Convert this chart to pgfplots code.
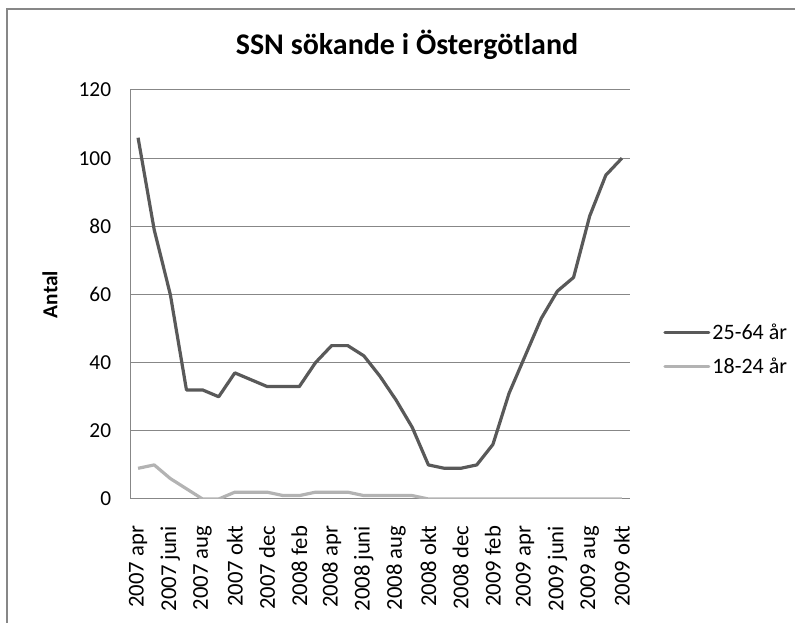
\documentclass[border=0pt]{standalone}
\usepackage{fontspec}
\setmainfont{Carlito}
\usepackage{pgfplots}
\pgfplotsset{compat=1.18}
\definecolor{darkser}{HTML}{595959}
\definecolor{lightser}{HTML}{B3B3B3}
\definecolor{gridc}{HTML}{878787}
\begin{document}
\begin{tikzpicture}
\path[use as bounding box] (0,0) rectangle (596.25pt,467.25pt);
\draw[gridc, line width=0.9pt] (5.25pt,-2pt) -- (5.25pt,460.5pt) -- (600pt,460.5pt);
\begin{axis}[
  at={(97.5pt,93pt)}, anchor=south west,
  scale only axis, width=375pt, height=306.75pt,
  xmin=-0.5, xmax=30.5, ymin=0, ymax=120,
  xtick={0,2,...,30},
  xticklabels={2007 apr,2007 juni,2007 aug,2007 okt,2007 dec,2008 feb,2008 apr,2008 juni,2008 aug,2008 okt,2008 dec,2009 feb,2009 apr,2009 juni,2009 aug,2009 okt},
  ytick={0,20,...,120},
  major tick length=0pt,
  axis x line*=bottom, axis y line*=left,
  axis line style={-, draw=gridc, line width=0.75pt},
  ymajorgrids, grid style={gridc, line width=0.75pt},
  /pgf/number format/assume math mode=true,
  tick label style={font=\fontsize{16}{19}\selectfont, text=black},
  yticklabel style={anchor=east, inner sep=0pt, xshift=-14pt},
  xticklabel style={font=\fontsize{17}{20}\selectfont, yshift=-20pt, rotate=90, anchor=east, inner sep=0pt},
  title={SSN sökande i Östergötland},
  title style={font=\fontsize{22.5}{27}\bfseries, at={(axis description cs:0.554,1.067)}, anchor=base},
  ylabel={Antal},
  ylabel style={font=\fontsize{16}{19}\bfseries, at={(axis description cs:-0.16,0.5)}, anchor=center},
  legend style={draw=none, fill=none, at={(axis description cs:1.066,0.3655)}, anchor=west,
    inner sep=0pt, row sep=12pt, font=\fontsize{16.5}{19}\selectfont,
    nodes={inner ysep=0pt, inner xsep=1.5pt}},
  legend cell align=left,
  legend image code/.code={\draw[#1, line cap=round] (0pt,0pt) -- (33pt,0pt);},
  every axis plot/.append style={line width=2.4pt, line join=round, mark=none},
]
\addplot[darkser] coordinates {
(0,106) (1,79) (2,60) (3,32) (4,32) (5,30) (6,37) (7,35) (8,33) (9,33) (10,33)
(11,40) (12,45) (13,45) (14,42) (15,36) (16,29) (17,21) (18,10) (19,9) (20,9)
(21,10) (22,16) (23,31) (24,42) (25,53) (26,61) (27,65) (28,83) (29,95) (30,100)};
\addlegendentry{25-64 år}
\addplot[lightser] coordinates {
(0,9) (1,10) (2,6) (3,3) (4,0) (5,0) (6,2) (7,2) (8,2) (9,1) (10,1)
(11,2) (12,2) (13,2) (14,1) (15,1) (16,1) (17,1) (18,0) (19,0) (20,0)
(21,0) (22,0) (23,0) (24,0) (25,0) (26,0) (27,0) (28,0) (29,0) (30,0)};
\addlegendentry{18-24 år}
\end{axis}
\end{tikzpicture}
\end{document}
